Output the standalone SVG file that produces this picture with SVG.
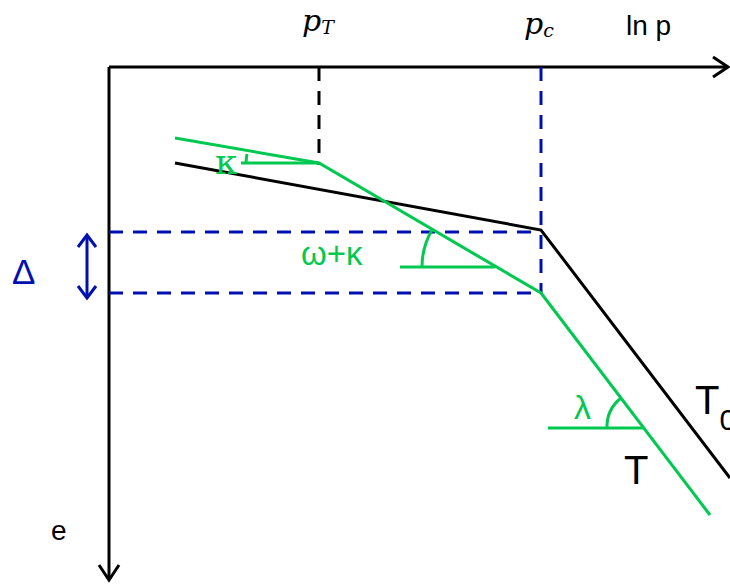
<svg xmlns="http://www.w3.org/2000/svg" width="730" height="584" viewBox="0 0 730 584">
<style>
.ax{stroke:#000;stroke-width:3;fill:none}
.blk{stroke:#000;stroke-width:3;fill:none}
.grn{stroke:#00c850;stroke-width:3;fill:none}
.bd{stroke:#0010b0;stroke-width:3;fill:none;stroke-dasharray:14 10}
.kd{stroke:#000;stroke-width:3;fill:none;stroke-dasharray:14 10}
.bl{stroke:#0010b0;stroke-width:3;fill:none}
.t{font-family:"Liberation Sans",Arial,sans-serif}
.m{font-family:"DejaVu Serif","Liberation Serif",serif;font-style:italic}
</style>
<rect width="730" height="584" fill="#fff"/>
<g id="connectors">
<line class="ax" x1="109" y1="67" x2="728" y2="67"/>
<polyline class="ax" points="713,57 728,67 713,77"/>
<line class="ax" x1="109" y1="67" x2="109" y2="580"/>
<polyline class="ax" points="99,565 109,580 119,565"/>
<line class="kd" x1="319" y1="67" x2="319" y2="165"/>
<line class="bd" x1="541" y1="67" x2="541" y2="293"/>
<line class="bd" x1="109" y1="232" x2="541" y2="232"/>
<line class="bd" x1="109" y1="293" x2="541" y2="293"/>
<line class="bl" x1="87" y1="235" x2="87" y2="298"/>
<polyline class="bl" points="78,247 87,235 96,247"/>
<polyline class="bl" points="78,286 87,298 96,286"/>
<polyline class="blk" points="175,163 541,230 730,478"/>
<polyline class="grn" points="175,138 319,163 541,293 710,515"/>
<line class="grn" x1="241" y1="163" x2="319" y2="163"/>
<path class="grn" d="M246,163 A73,73 0 0 1 247,154"/>
<line class="grn" x1="400" y1="267" x2="495" y2="267"/>
<path class="grn" d="M422,267 A73,73 0 0 1 432,230"/>
<line class="grn" x1="548" y1="428" x2="644" y2="428"/>
<path class="grn" d="M607,428 A37,37 0 0 1 621,398"/>
</g>
<g id="labels">
<text class="m" x="302" y="31" font-size="30">p<tspan font-size="19" dy="3">T</tspan></text>
<text class="m" x="524" y="34" font-size="30">p<tspan font-size="19" dy="3">c</tspan></text>
<text class="t" x="626" y="35" font-size="28">ln p</text>
<text class="t" x="51" y="540" font-size="28">e</text>
<text class="t" x="12" y="284" font-size="35" fill="#0010b0">Δ</text>
<text x="215" y="174" font-size="36" fill="#00c850" font-family="DejaVu Serif,serif">κ</text>
<text class="t" x="301" y="265" font-size="33" fill="#00c850">ω+κ</text>
<text class="t" x="574" y="419" font-size="34" fill="#00c850">λ</text>
<text class="t" x="624" y="484" font-size="40">T</text>
<text class="t" x="695" y="414" font-size="40">T<tspan font-size="30" dy="16">0</tspan></text>
</g>
</svg>
